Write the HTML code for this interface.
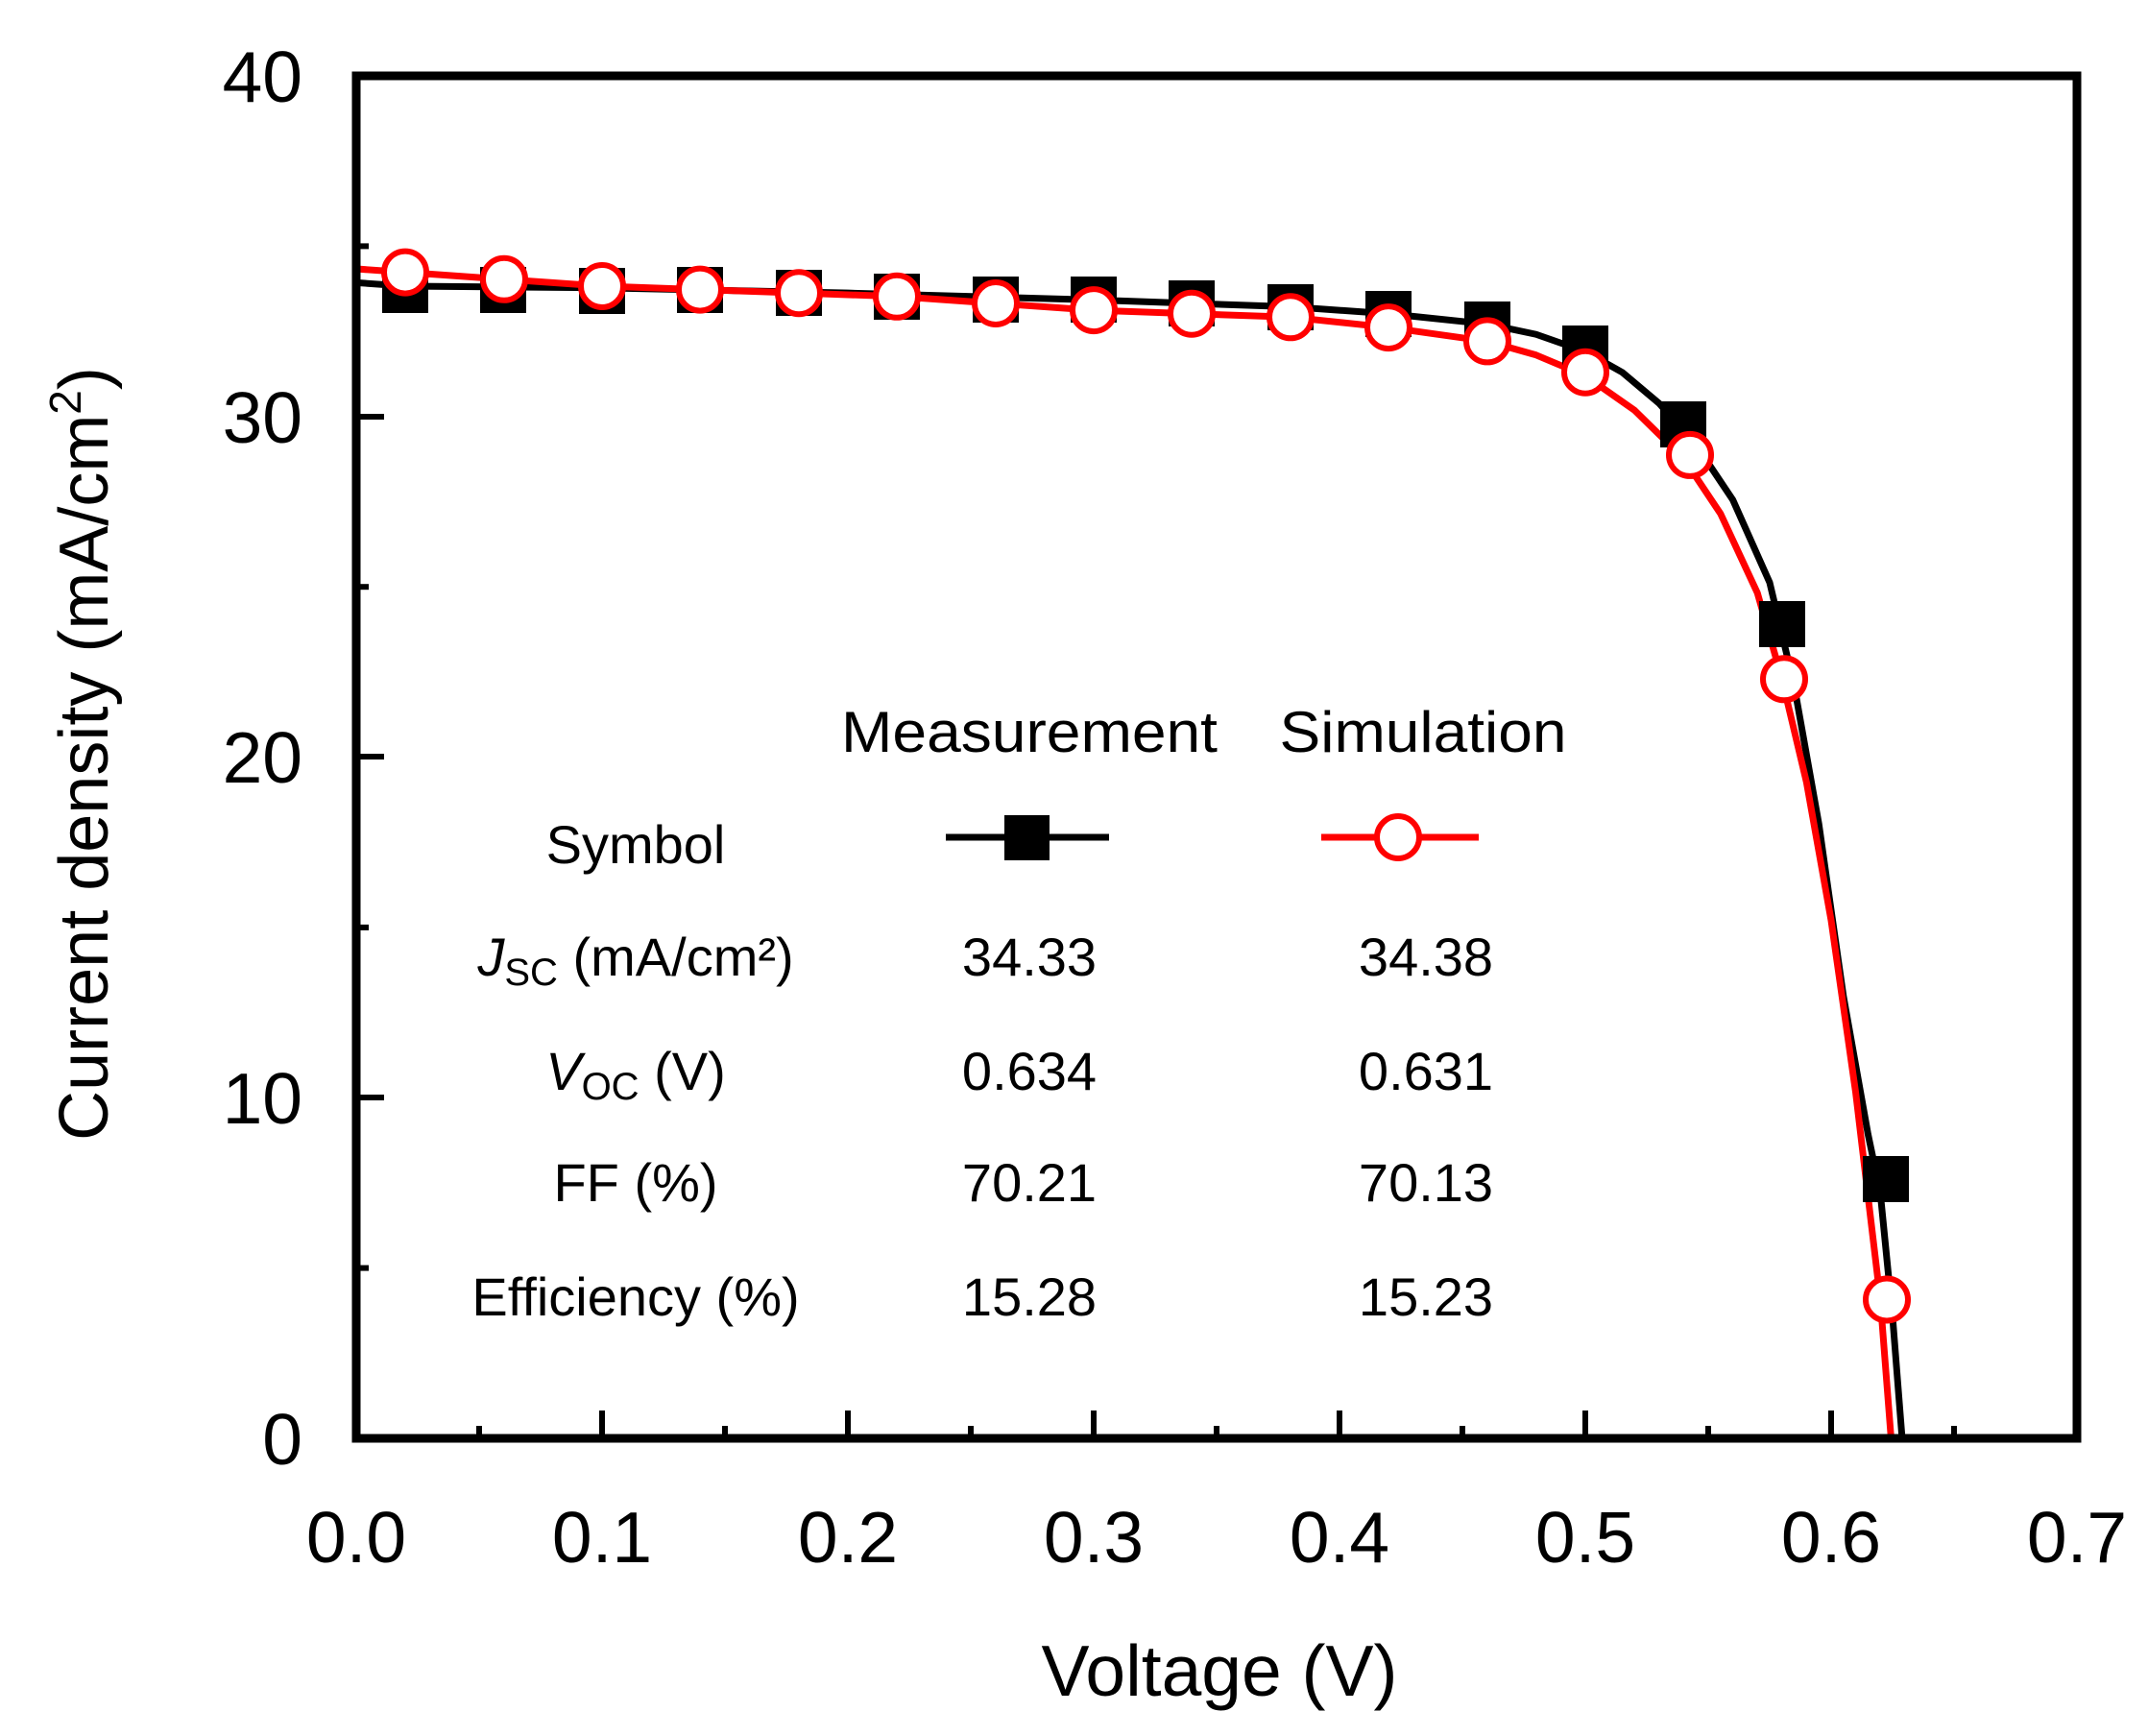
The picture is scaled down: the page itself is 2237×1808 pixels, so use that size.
<!DOCTYPE html>
<html><head><meta charset="utf-8"><style>
html,body{margin:0;padding:0;background:#fff;}
svg{display:block;}
text{font-family:"Liberation Sans",Arial,sans-serif;fill:#000;}
</style></head><body>
<svg width="2237" height="1808" viewBox="0 0 2237 1808" xmlns="http://www.w3.org/2000/svg">
<defs><clipPath id="pc"><rect x="371" y="79" width="1792" height="1419"/></clipPath></defs>
<rect width="2237" height="1808" fill="#fff"/>
<!-- ticks -->
<g stroke="#000" stroke-width="6">
<line x1="627" y1="1498" x2="627" y2="1469"/><line x1="883" y1="1498" x2="883" y2="1469"/><line x1="1139" y1="1498" x2="1139" y2="1469"/><line x1="1395" y1="1498" x2="1395" y2="1469"/><line x1="1651" y1="1498" x2="1651" y2="1469"/><line x1="1907" y1="1498" x2="1907" y2="1469"/>
<line x1="499" y1="1498" x2="499" y2="1485"/><line x1="755" y1="1498" x2="755" y2="1485"/><line x1="1011" y1="1498" x2="1011" y2="1485"/><line x1="1267" y1="1498" x2="1267" y2="1485"/><line x1="1523" y1="1498" x2="1523" y2="1485"/><line x1="1779" y1="1498" x2="1779" y2="1485"/><line x1="2035" y1="1498" x2="2035" y2="1485"/>
<line x1="371" y1="1143" x2="400" y2="1143"/><line x1="371" y1="788" x2="400" y2="788"/><line x1="371" y1="434" x2="400" y2="434"/>
<line x1="371" y1="1320.6" x2="384" y2="1320.6"/><line x1="371" y1="965.9" x2="384" y2="965.9"/><line x1="371" y1="611.2" x2="384" y2="611.2"/><line x1="371" y1="256.4" x2="384" y2="256.4"/>
</g>
<!-- tick labels -->
<g font-size="75" text-anchor="end">
<text x="315" y="106">40</text><text x="315" y="461">30</text><text x="315" y="815">20</text><text x="315" y="1170">10</text><text x="315" y="1525">0</text>
</g>
<g font-size="75" text-anchor="middle">
<text x="371" y="1627">0.0</text><text x="627" y="1627">0.1</text><text x="883" y="1627">0.2</text><text x="1139" y="1627">0.3</text><text x="1395" y="1627">0.4</text><text x="1651" y="1627">0.5</text><text x="1907" y="1627">0.6</text><text x="2163" y="1627">0.7</text>
</g>
<text x="1270" y="1766" font-size="75" text-anchor="middle">Voltage (V)</text>
<text transform="translate(112,785) rotate(-90)" font-size="72" text-anchor="middle">Current density (mA/cm<tspan font-size="46" dy="-28">2</tspan><tspan dy="28">)</tspan></text>
<!-- curves -->
<g clip-path="url(#pc)">
<g transform="translate(371,1515) scale(2560,-35.9)" fill="none">
<polyline vector-effect="non-scaling-stroke" stroke="#000" stroke-width="7" stroke-linejoin="round" points="0,34.0 0.02,33.9 0.1,33.85 0.2,33.7 0.3,33.5 0.38,33.3 0.42,33.1 0.46,32.8 0.48,32.5 0.50,32.0 0.515,31.4 0.53,30.5 0.545,29.3 0.56,27.7 0.575,25.3 0.585,22.3 0.595,18.3 0.605,13.3 0.615,9.3 0.62,7.6 0.625,4 0.6305,-1"/>
<polyline vector-effect="non-scaling-stroke" stroke="#f00" stroke-width="7" stroke-linejoin="round" points="0,34.4 0.02,34.3 0.06,34.1 0.1,33.9 0.14,33.8 0.18,33.7 0.22,33.6 0.26,33.4 0.30,33.2 0.34,33.1 0.38,33.0 0.42,32.7 0.46,32.3 0.48,31.9 0.50,31.3 0.52,30.3 0.54,28.9 0.555,27.3 0.57,25.0 0.58,22.5 0.59,19.5 0.60,15.5 0.61,10.5 0.62,4.5 0.626,-1"/>
</g>
</g>
<rect x="371" y="79" width="1792" height="1419" fill="none" stroke="#000" stroke-width="9"/>
<!-- square markers -->
<g fill="#000">
<rect x="398" y="278" width="48" height="48"/><rect x="500" y="278" width="48" height="48"/><rect x="603" y="279" width="48" height="48"/><rect x="705" y="278" width="48" height="48"/><rect x="808" y="281" width="48" height="48"/><rect x="910" y="285" width="48" height="48"/><rect x="1013" y="288" width="48" height="48"/><rect x="1115" y="288" width="48" height="48"/><rect x="1217" y="292" width="48" height="48"/><rect x="1320" y="296" width="48" height="48"/><rect x="1422" y="303" width="48" height="48"/><rect x="1525" y="314" width="48" height="48"/><rect x="1627" y="339" width="48" height="48"/><rect x="1729" y="418" width="48" height="48"/><rect x="1832" y="626" width="48" height="48"/><rect x="1940" y="1204" width="48" height="48"/>
</g>
<!-- circle markers -->
<g fill="#fff" stroke="#f00" stroke-width="6">
<circle cx="422" cy="283.6" r="22"/><circle cx="525" cy="290.8" r="22"/><circle cx="627" cy="298" r="22"/><circle cx="729" cy="301.6" r="22"/><circle cx="832" cy="305.2" r="22"/><circle cx="934" cy="308.8" r="22"/><circle cx="1037" cy="316" r="22"/><circle cx="1139" cy="323.1" r="22"/><circle cx="1241" cy="326.7" r="22"/><circle cx="1344" cy="330.3" r="22"/><circle cx="1446" cy="341.1" r="22"/><circle cx="1549" cy="355.4" r="22"/><circle cx="1651" cy="387.7" r="22"/><circle cx="1760" cy="473.9" r="22"/><circle cx="1858" cy="707.3" r="22"/><circle cx="1965" cy="1353.5" r="22"/>
</g>
<!-- table -->
<g font-size="60" text-anchor="middle">
<text x="1072" y="783" textLength="392" lengthAdjust="spacingAndGlyphs">Measurement</text>
<text x="1482" y="783" textLength="299" lengthAdjust="spacingAndGlyphs">Simulation</text>
<text x="662" y="899" font-size="56">Symbol</text>
<text x="662" y="1016" font-size="56"><tspan font-style="italic">J</tspan><tspan font-size="40" dy="10">SC</tspan><tspan dy="-10"> (mA/cm²)</tspan></text>
<text x="662" y="1135" font-size="56"><tspan font-style="italic">V</tspan><tspan font-size="40" dy="10">OC</tspan><tspan dy="-10"> (V)</tspan></text>
<text x="662" y="1251" font-size="56">FF (%)</text>
<text x="662" y="1370" font-size="56">Efficiency (%)</text>
<g font-size="56">
<text x="1072" y="1016">34.33</text><text x="1485" y="1016">34.38</text>
<text x="1072" y="1135">0.634</text><text x="1485" y="1135">0.631</text>
<text x="1072" y="1251">70.21</text><text x="1485" y="1251">70.13</text>
<text x="1072" y="1370">15.28</text><text x="1485" y="1370">15.23</text>
</g>
</g>
<line x1="985" y1="872" x2="1155" y2="872" stroke="#000" stroke-width="7"/>
<rect x="1046" y="849" width="47" height="47" fill="#000"/>
<line x1="1376" y1="872" x2="1540" y2="872" stroke="#f00" stroke-width="7"/>
<circle cx="1456" cy="872" r="22" fill="#fff" stroke="#f00" stroke-width="6"/>
</svg>
</body></html>
